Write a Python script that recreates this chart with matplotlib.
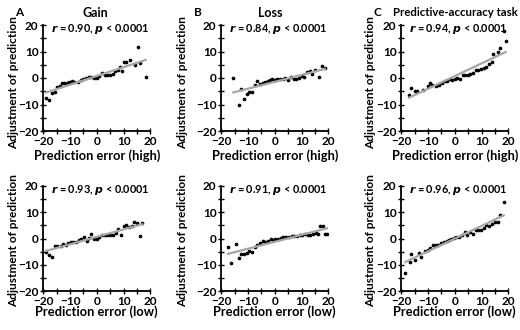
import numpy as np
import matplotlib
matplotlib.use("Agg")
import matplotlib.pyplot as plt
from matplotlib.ticker import MultipleLocator

plt.rcParams['font.family'] = ['Lato', 'DejaVu Sans']

# ---- data ----
gain_high_x = [-19, -17.75, -16.6, -15.6, -14.75, -13.9, -13, -12.1, -11.25, -10.25, -9.1, -8.5, -7.1, -6, -5,
               -4, -3, -2.25, -1, 0, 1, 2, 3, 3.9, 4.9, 5.9, 6.9, 7.75, 8.5, 9.4, 10.25, 11.1, 12.25, 14.1,
               15.4, 16.25, 18.25]
gain_high_y = [-7.5, -8.4, -5.5, -5.4, -3.4, -3.1, -1.75, -1.9, -2, -1.4, -1, -1.6, -1.4, -0.9, -0.4,
               0, 0.4, 0.4, -0.1, 0, 0.6, 1.9, 1, 1, 1, 1.6, 2.5, 3.1, 4.25, 2.6, 5.9, 5.9, 6.9, 5,
               11.6, 5.6, 0.25]

loss_high_x = [-15.5, -13.5, -12.5, -11.5, -10.5, -9.6, -8.6, -7.5, -6.5, -5.5, -4.5, -3.6, -2.6, -1.75, -0.9,
               0, 1, 2, 3, 4, 5, 6, 7, 8, 9, 10, 11, 12, 13, 14, 15, 16.4, 17.6, 18.75]
loss_high_y = [-0.1, -10, -4.1, -8, -5.9, -5.25, -5.25, -2.75, -1.1, -2.1, -1.9, -1.5, -1.1, -0.75, -0.5,
               -0.6, -0.4, -0.25, -0.25, -0.1, -0.6, 0.4, -0.25, -0.25, 0, 0.6, 0.4, 2.4, 2.5, 1.6, 2.9, 0.4,
               4.5, 3.75]

acc_high_x = [-17.1, -16.25, -15, -14, -11.9, -10, -9.1, -8.4, -6.9, -5.75, -4.75, -3.75, -2.9, -1.75, -1,
              0, 1, 1.9, 2.9, 3.75, 4.75, 5.75, 6.75, 7.75, 8.75, 9.75, 10.75, 11.75, 12.75, 13.75, 14.25,
              16.25, 17, 18.25, 19]
acc_high_y = [-6.5, -3.6, -5, -5, -4.4, -3.1, -2, -2.5, -2.9, -2.5, -1.9, -1.25, -1, -0.4, -0.75,
              -0.4, 0, -0.4, 1, 1.25, 1, 1.4, 1.9, 2.9, 3.1, 3.4, 3.75, 4.25, 5.4, 6, 8.9,
              9.75, 11.25, 17.75, 13.9]

gain_low_x = [-19, -17.8, -16.8, -15.8, -14.8, -13.5, -12.5, -11.6, -10.8, -9.8, -8.8, -7.8, -6.8, -5.8, -4.8,
              -3.8, -2.8, -2, -1, 0, 1, 2, 3, 4, 5, 6, 7, 8, 9, 10, 11, 12, 13, 14, 15, 16, 17]
gain_low_y = [-5, -6.4, -7, -2.8, -2.9, -3, -2, -2.6, -1.6, -1.5, -1.3, -1.2, -0.7, -0.3, 0.4,
              -0.9, 0.1, 1.6, -0.3, -0.3, 0.5, 1.3, 1.3, 1.2, 1.4, 1.4, 2, 3.5, 1.4, 4.6, 5.1, 4.3, 4.8,
              6.2, 6, 1.1, 6]

loss_low_x = [-17.5, -16.5, -14.4, -13.5, -12.5, -11.5, -10.5, -9.5, -8.5, -7.5, -6.5, -5.5, -4.5, -3.5, -2.5,
              -1.5, -0.75, 0.25, 1.25, 2.25, 3.25, 4.25, 5.25, 6.25, 7.25, 8.25, 9.25, 10.25, 11.25, 12.25,
              13.25, 14.25, 15.25, 16.25, 17, 18, 18.9, 19.7]
loss_low_y = [-3.2, -9.3, -2.2, -7.3, -5.9, -6, -5.6, -4.8, -5.1, -3.2, -2.5, -1.9, -1, -1.3, -0.9,
              0, -0.5, -0.25, 0, 0.1, 0.4, 0.6, 0.6, 0.9, 0.8, 0.9, 1.4, 1.4, 1.6, 1.4,
              1.5, 1.9, 2.2, 1.9, 4.8, 4.8, 1.9, 1.9]

acc_low_x = [-18.5, -16.9, -16.25, -15, -13.5, -12.5, -11, -10, -9.1, -8.1, -7.1, -6.25, -5.25, -4, -3.1,
             -2.25, -1.25, -0.4, 0.6, 1.6, 2.75, 3.75, 4.6, 5.75, 6.75, 7.75, 8.75, 9.75, 10.75, 11.75,
             12.75, 13.75, 15, 16, 16.9, 18.25]
acc_low_y = [-13, -8.9, -6, -8.2, -5.7, -6.9, -4.7, -4.5, -3.7, -2.3, -2.3, -2.4, -1.8, -1.3, -1.1,
             -0.5, -0.1, 0.1, 0.6, 0.6, 1.3, 2.3, 1.5, 2.5, 1.9, 3.2, 3.2, 3.4, 3.9, 5.1,
             4.8, 5.7, 6.4, 6.1, 8.9, 14]

r_values = ["0.90", "0.84", "0.94", "0.93", "0.91", "0.96"]
panel_letters = ["A", "B", "C"]
panel_titles = ["Gain", "Loss", "Predictive-accuracy task"]
x_labels = ["Prediction error (high)", "Prediction error (low)"]
y_label = "Adjustment of prediction"

series = [(gain_high_x, gain_high_y), (loss_high_x, loss_high_y), (acc_high_x, acc_high_y),
          (gain_low_x, gain_low_y), (loss_low_x, loss_low_y), (acc_low_x, acc_low_y)]

fig = plt.figure(figsize=(5.2, 3.3), dpi=100)
W, H = 520.0, 330.0
lefts = [43.3, 221.3, 401.3]
ylab_off = [-30.0, -38.5, -30.5]
width = 107.0
rows = [(25.0, 131.0), (186.0, 291.0)]
xlabel_y = [156.0, 312.0]
ylabel_c = [83.0, 241.0]

for i, (xs, ys) in enumerate(series):
    row, col = divmod(i, 3)
    top, bot = rows[row]
    h = bot - top
    ax = fig.add_axes([lefts[col] / W, 1 - bot / H, width / W, h / H])
    xs = np.array(xs); ys = np.array(ys)
    ax.scatter(xs, ys, s=7, color='black', zorder=2, linewidths=0)
    k, b = np.polyfit(xs, ys, 1)
    xx = np.array([xs.min(), xs.max()])
    ax.plot(xx, k * xx + b, color='#a6a6a6', lw=1.6, zorder=3)
    ax.set_xlim(-20, 20)
    ax.set_ylim(-20, 20)
    ax.xaxis.set_major_locator(MultipleLocator(10))
    ax.xaxis.set_minor_locator(MultipleLocator(5))
    ax.yaxis.set_major_locator(MultipleLocator(10))
    ax.yaxis.set_minor_locator(MultipleLocator(5))
    for s in ['top', 'right']:
        ax.spines[s].set_visible(False)
    for s in ['left', 'bottom']:
        ax.spines[s].set_linewidth(1.3)
        ax.spines[s].set_color('black')
    ax.tick_params(which='major', direction='inout', length=4, width=1.0, labelsize=8.5, pad=1.5)
    ax.tick_params(which='minor', direction='inout', length=4, width=1.0)
    for lab in ax.get_xticklabels() + ax.get_yticklabels():
        lab.set_fontweight('bold')
    ax.set_xlabel(x_labels[row], fontsize=9.3, fontweight='bold')
    ax.set_ylabel(y_label, fontsize=8.6, fontweight='bold')
    ax.xaxis.set_label_coords(0.5, (bot - xlabel_y[row]) / h)
    ax.yaxis.set_label_coords(ylab_off[col] / width, (bot - ylabel_c[row]) / h)
    ax.xaxis.label.set_va('center')
    ax.yaxis.label.set_va('center')
    ax.text(0.53, (bot - (top + 4)) / h, r"$\mathbfit{r}$ = " + r_values[i] + r", $\mathbfit{p}$ < 0.0001",
            transform=ax.transAxes, ha='center', va='center', fontsize=7.8, fontweight='bold')
    if row == 0:
        fig.text([19, 198, 377][col] / W, 1 - 13 / H, panel_letters[col], ha='center', va='center',
                 fontsize=8.5, fontweight='bold')
        fig.text([95, 270, 455][col] / W, 1 - 13 / H, panel_titles[col], ha='center', va='center',
                 fontsize=[9, 9, 8.2][col], fontweight='bold')

fig.savefig("out.png", dpi=100)
